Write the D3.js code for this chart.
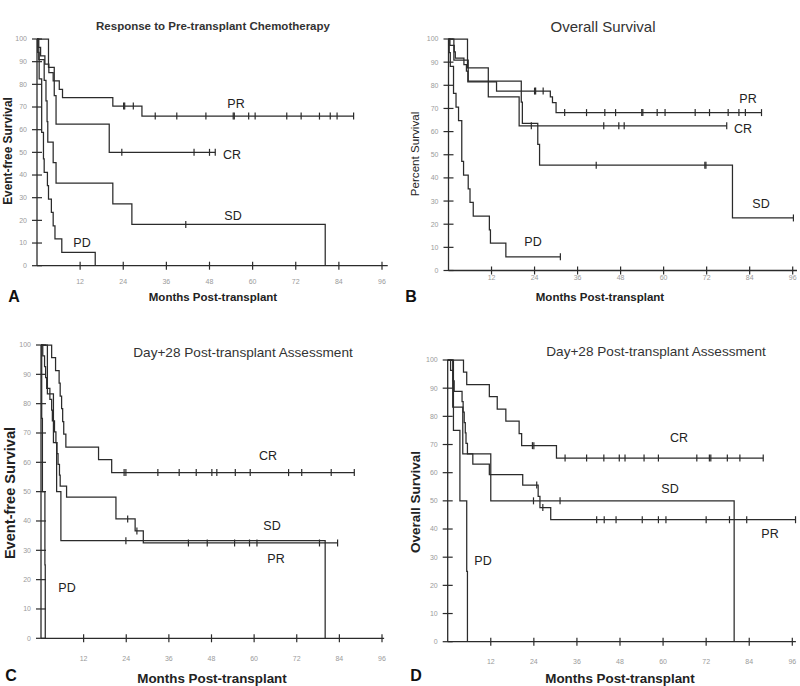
<!DOCTYPE html>
<html><head><meta charset="utf-8">
<script src="https://cdn.jsdelivr.net/npm/d3@7"></script>
<style>
body{margin:0;background:#fff}
svg{display:block}
text{font-family:"Liberation Sans",Arial,sans-serif}
</style>
</head><body>
<svg id="c" width="800" height="686"></svg>
<script>
// ---------- tick labels ----------
const monthTicks = [12, 24, 36, 48, 60, 72, 84, 96];
const pctTicks = [0, 10, 20, 30, 40, 50, 60, 70, 80, 90, 100];

// ---------- Panel A: event-free survival by response to pre-transplant chemo ----------
const aPR = [[0,100],[0.3,96.3],[1.0,92.6],[2.2,88.9],[3.3,85.2],[4.5,81.5],[6.2,77.8],[7.1,74.1],[21.1,70.4],[29.2,66.0]];
const aPRcens = [24.1,24.4,26.8,32.9,38.9,47.0,54.6,54.9,58.9,60.7,69.5,73.5,78.6,81.6,83.5,88.1];
const aCR = [[0,100],[3.2,87.5],[4.8,75],[5.3,62.5],[20.1,50]];
const aCRcens = [23.6,43.7,48.0,49.6];
const aSD = [[0,100],[0.5,90.9],[2.0,81.8],[2.5,72.7],[2.8,63.6],[3.0,54.5],[4.5,45.5],[5.3,36.4],[21.1,27.3],[26.4,18.2],[80.2,0]];
const aSDcens = [41.4];
const aPD = [[0,100],[0.2,94.1],[0.6,82.4],[1.3,58.8],[1.8,47.1],[2.0,41.2],[2.9,35.3],[3.2,29.4],[4.0,23.5],[4.5,17.6],[5.0,11.8],[6.9,5.9],[16.2,0]];
const aPDcens = [];

// ---------- Panel B: overall survival ----------
const bPR = [[0,100],[0.4,97.2],[1.6,94.4],[1.9,91.7],[4.3,88.9],[5.0,86.1],[5.4,81.5],[13.4,77.5],[28.4,75],[29.0,72.5],[30.0,68.2]];
const bPRcens = [24.0,24.3,26.4,32.4,38.5,43.6,46.6,53.9,54.2,58.2,60.4,68.8,72.8,78.0,81.0,82.8,87.3];
const bCR = [[0,100],[5.3,87.5],[11.1,75],[19.7,62.5]];
const bCRcens = [23.1,43.3,47.5,49.0,77.6];
const bSD = [[0,100],[1.5,90.9],[5.5,81.8],[20.3,72.7],[20.6,63.6],[24.9,54.5],[25.4,45.5],[79.2,22.7]];
const bSDcens = [41.2,71.5,71.8,96.2];
const bPD = [[0,100],[0.2,94.1],[0.5,88.2],[1.4,76.5],[2.1,70.6],[2.8,64.7],[3.7,47.1],[4.2,41.2],[5.5,35.3],[6.0,29.4],[6.9,23.5],[11.4,17.6],[11.7,11.8],[16.0,5.9]];
const bPDcens = [31.2];

// ---------- Panel C: event-free survival by day+28 assessment ----------
const cCR = [[0,100],[3.0,95.7],[4.1,91.3],[5.1,87.0],[5.4,82.6],[5.8,78.3],[6.1,73.9],[6.4,69.6],[7.0,65.2],[16.2,60.9],[19.9,56.5]];
const cCRcens = [23.4,23.9,32.9,38.9,43.7,48.1,49.5,54.7,58.9,69.7,73.4,81.7,88.2];
const cPR = [[0,100],[0.5,96.3],[1.0,92.6],[1.3,88.9],[1.6,85.2],[2.5,81.5],[3.0,77.8],[3.2,74.1],[3.8,70.4],[4.2,66.7],[4.5,63.0],[4.8,59.3],[5.2,55.6],[5.4,51.9],[7.2,48.1],[21.1,40.7],[26.5,36.6],[28.8,32.5]];
const cPRcens = [24.4,27.0,41.5,46.8,54.5,58.7,60.8,78.4,83.5];
const cSD = [[0,100],[1.8,83.3],[3.5,66.7],[4.4,50],[5.6,33.3],[80.0,0]];
const cSDcens = [23.9];
const cPD = [[0,100],[0.2,75],[0.4,50],[1.1,25],[1.2,0]];
const cPDcens = [];

// ---------- Panel D: overall survival by day+28 assessment ----------
const dCR = [[0,100],[4.4,95.7],[5.3,91.3],[11.6,87.0],[13.8,82.6],[16.2,78.3],[19.9,73.9],[20.6,69.6],[30.3,65.2]];
const dCRcens = [23.6,24.0,32.7,38.7,43.5,47.8,49.4,54.7,58.7,69.4,72.9,73.3,77.9,81.4,87.9];
const dPR = [[0,100],[0.8,96.3],[1.5,92.6],[1.8,88.9],[4.0,85.2],[4.3,81.5],[4.6,77.8],[4.9,74.1],[5.1,70.4],[5.5,66.7],[7.0,63.0],[11.6,59.3],[20.9,55.6],[25.2,51.6],[25.7,47.6],[28.7,43.3]];
const dPRcens = [24.8,26.5,41.5,43.6,46.9,54.2,58.7,60.8,72.0,78.5,83.3,96.9];
const dSD = [[0,100],[1.4,83.3],[4.2,66.7],[12.0,50],[79.8,0]];
const dSDcens = [23.9,31.3];
const dPD = [[0,100],[1.6,75],[3.4,50],[5.3,25],[5.5,0]];
const dPDcens = [];

// ---------- layout ----------
const panels = [
  {x0:37, x96:382, yb:265.7, yt:39, xEnd:97.6, tickDY:16,
   curves:[[aPR,aPRcens],[aCR,aCRcens],[aSD,aSDcens],[aPD,aPDcens]],
   labels:[["PR",236,104],["CR",232,155],["SD",233,216],["PD",82,243]],
   title:["Response to Pre-transplant Chemotherapy",213,26,11.5,"bold"],
   xlab:["Months Post-transplant",213,297,11.5,"bold"],
   ylab:["Event-free Survival",8,151,11.9,"bold"],
   letter:["A",14,302]},
  {x0:448.5, x96:792.7, yb:270.5, yt:39, xEnd:97.2, tickDY:7.5,
   curves:[[bPR,bPRcens],[bCR,bCRcens],[bSD,bSDcens],[bPD,bPDcens]],
   labels:[["PR",748,99],["CR",743,129],["SD",761,204],["PD",533,242]],
   title:["Overall Survival",603,27,15,"normal"],
   xlab:["Months Post-transplant",600,297,11.5,"bold"],
   ylab:["Percent Survival",415,154,11.6,"normal"],
   letter:["B",411,302]},
  {x0:41, x96:382, yb:638.3, yt:345, xEnd:96.6, tickDY:20,
   curves:[[cCR,cCRcens],[cPR,cPRcens],[cSD,cSDcens],[cPD,cPDcens]],
   labels:[["CR",268,456],["SD",272,526],["PR",276,559],["PD",67,588]],
   title:["Day+28 Post-transplant Assessment",243,352,13.6,"normal"],
   xlab:["Months Post-transplant",212,678,13.4,"bold"],
   ylab:["Event-free Survival",10,493,14.6,"bold"],
   letter:["C",11,681]},
  {x0:447.7, x96:792.3, yb:641.7, yt:360, xEnd:97, tickDY:20,
   curves:[[dCR,dCRcens],[dPR,dPRcens],[dSD,dSDcens],[dPD,dPDcens]],
   labels:[["CR",679,438],["SD",670,489],["PR",770,534],["PD",483,561]],
   title:["Day+28 Post-transplant Assessment",656,351,13.6,"normal"],
   xlab:["Months Post-transplant",620,678,13.4,"bold"],
   ylab:["Overall Survival",415,502,13.5,"bold"],
   letter:["D",416,681]}
];

const svg = d3.select("#c");
const ink = "#2b2b2b";

panels.forEach(p => {
  const x = d3.scaleLinear().domain([0,96]).range([p.x0, p.x96]);
  const y = d3.scaleLinear().domain([0,100]).range([p.yb, p.yt]);
  const g = svg.append("g");

  // axes
  g.append("line").attr("x1",x(0)).attr("x2",x(p.xEnd)).attr("y1",y(0)).attr("y2",y(0))
    .attr("stroke",ink).attr("stroke-width",1.3);
  g.append("line").attr("x1",x(0)).attr("x2",x(0)).attr("y1",y(0)).attr("y2",y(100))
    .attr("stroke",ink).attr("stroke-width",1.3);
  // y ticks (crossing)
  g.selectAll(".yt").data(pctTicks).enter().append("line")
    .attr("x1",x(0)-5).attr("x2",x(0)+5).attr("y1",d=>y(d)).attr("y2",d=>y(d))
    .attr("stroke",ink).attr("stroke-width",1.2);
  g.selectAll(".yl").data(pctTicks).enter().append("text")
    .attr("x",x(0)-10).attr("y",d=>y(d)).attr("dy","0.35em")
    .attr("text-anchor","end").attr("font-size",7).attr("fill","#9a9a9a").text(d=>d);
  // x ticks (crossing)
  g.selectAll(".xt").data(monthTicks).enter().append("line")
    .attr("x1",d=>x(d)).attr("x2",d=>x(d)).attr("y1",y(0)-4).attr("y2",y(0)+4)
    .attr("stroke",ink).attr("stroke-width",1.2);
  g.selectAll(".xl").data(monthTicks).enter().append("text")
    .attr("x",d=>x(d)).attr("y",y(0)+p.tickDY).attr("dy","0.35em")
    .attr("text-anchor","middle").attr("font-size",7).attr("fill","#9a9a9a").text(d=>d);

  // curves
  const line = d3.line().x(d=>x(d[0])).y(d=>y(d[1])).curve(d3.curveStepAfter);
  p.curves.forEach(([steps, cens]) => {
    const last = steps[steps.length-1];
    const end = Math.max(last[0], cens.length ? d3.max(cens) : 0);
    const pts = steps.concat(end > last[0] ? [[end, last[1]]] : []);
    g.append("path").attr("d", line(pts)).attr("fill","none")
      .attr("stroke",ink).attr("stroke-width",1.25);
    const survAt = t => { let s = 100; steps.forEach(d => { if (d[0] <= t) s = d[1]; }); return s; };
    g.selectAll(null).data(cens).enter().append("line")
      .attr("x1",d=>x(d)).attr("x2",d=>x(d))
      .attr("y1",d=>y(survAt(d))-3.5).attr("y2",d=>y(survAt(d))+3.5)
      .attr("stroke",ink).attr("stroke-width",1.2);
  });

  // group labels
  p.labels.forEach(([t,lx,ly]) => {
    g.append("text").attr("x",lx).attr("y",ly).attr("dy","0.35em").attr("text-anchor","middle")
      .attr("font-size",12.5).attr("fill","#222").text(t);
  });

  // titles
  const [tt,tx,ty,ts,tw] = p.title;
  g.append("text").attr("x",tx).attr("y",ty).attr("dy","0.35em").attr("text-anchor","middle")
    .attr("font-size",ts).attr("font-weight",tw).attr("fill","#333").text(tt);
  const [xt,xx,xy,xs,xw] = p.xlab;
  g.append("text").attr("x",xx).attr("y",xy).attr("dy","0.35em").attr("text-anchor","middle")
    .attr("font-size",xs).attr("font-weight",xw).attr("fill","#222").text(xt);
  const [yt,yx,yy,ys,yw] = p.ylab;
  g.append("text").attr("transform",`translate(${yx},${yy}) rotate(-90)`).attr("dy","0.35em")
    .attr("text-anchor","middle").attr("font-size",ys).attr("font-weight",yw).attr("fill","#222").text(yt);
  const [lt,lx,ly] = p.letter;
  g.append("text").attr("x",lx).attr("y",ly).attr("text-anchor","middle")
    .attr("font-size",16).attr("font-weight","bold").attr("fill","#111").text(lt);
});
</script>
</body></html>
